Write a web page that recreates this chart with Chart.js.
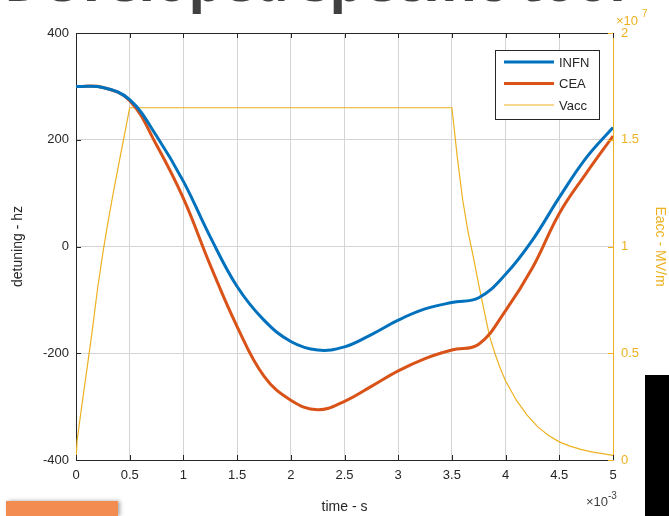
<!DOCTYPE html>
<html>
<head>
<meta charset="utf-8">
<script src="https://cdn.jsdelivr.net/npm/chart.js@4.4.1/dist/chart.umd.min.js"></script>
<style>
  html, body { margin: 0; padding: 0; background: #fff; }
  #wrap { width: 669px; height: 516px; position: relative; }
</style>
</head>
<body>
<div id="wrap"><canvas id="detuneChart" width="669" height="516"></canvas></div>
<script>
// time axis in ms (axis shows x10^-3 s)
const timeMs = [0, 0.25, 0.5, 0.75, 1, 1.25, 1.5, 1.75, 2, 2.25, 2.5,
                2.75, 3, 3.25, 3.5, 3.75, 4, 4.25, 4.5, 4.75, 5];
const infn = [300, 298, 275, 207, 122, 18, -75, -138, -178, -194, -188,
              -165, -138, -117, -105, -96, -52, 12, 92, 166, 223];
const cea  = [300, 298, 273, 190, 90, -35, -150, -243, -288, -306, -290,
              -262, -233, -210, -194, -183, -120, -40, 62, 137, 207];

// Vacc (x10^7 MV/m) has its own time samples
const vaccTime = [0, 0.01, 0.05, 0.1, 0.15, 0.2, 0.25, 0.3, 0.35, 0.4, 0.45, 0.5,
                  3.5, 3.55, 3.6, 3.65, 3.7, 3.75, 3.8, 3.85, 3.9, 3.95, 4,
                  4.1, 4.2, 4.3, 4.4, 4.5, 4.6, 4.7, 4.8, 4.9, 5];
const vacc = [0, 0.09, 0.24, 0.42, 0.6, 0.8, 0.97, 1.12, 1.26, 1.39, 1.52, 1.65,
              1.65, 1.42, 1.22, 1.07, 0.95, 0.82, 0.7, 0.58, 0.5, 0.43, 0.37,
              0.28, 0.21, 0.155, 0.115, 0.085, 0.065, 0.05, 0.038, 0.03, 0.022];

const xTicks = [0, 0.5, 1, 1.5, 2, 2.5, 3, 3.5, 4, 4.5, 5];
const leftTicks = [-400, -200, 0, 200, 400];
const rightTicks = [0, 0.5, 1, 1.5, 2];

const AXIS = '#262626';
const GOLD = '#EDB120';
const FONT = 'Liberation Sans, Arial, sans-serif';

// ---------------- extra drawing ----------------
const decorPlugin = {
  id: 'decor',
  afterDatasetsDraw(chart) {
    const { ctx, chartArea: a, scales } = chart;
    ctx.save();
    // top edge of the box
    ctx.strokeStyle = AXIS;
    ctx.lineWidth = 1;
    ctx.beginPath();
    ctx.moveTo(a.left, a.top + 0.5);
    ctx.lineTo(a.right, a.top + 0.5);
    ctx.stroke();
    // inward ticks
    xTicks.forEach(v => {
      const px = Math.round(scales.x.getPixelForValue(v)) + 0.5;
      ctx.beginPath();
      ctx.moveTo(px, a.bottom); ctx.lineTo(px, a.bottom - 5);
      ctx.moveTo(px, a.top); ctx.lineTo(px, a.top + 5);
      ctx.stroke();
    });
    leftTicks.forEach(v => {
      const py = Math.round(scales.y.getPixelForValue(v)) + 0.5;
      ctx.beginPath();
      ctx.moveTo(a.left, py); ctx.lineTo(a.left + 5, py);
      ctx.stroke();
    });
    ctx.strokeStyle = GOLD;
    rightTicks.forEach(v => {
      const py = Math.round(scales.y1.getPixelForValue(v)) + 0.5;
      ctx.beginPath();
      ctx.moveTo(a.right, py); ctx.lineTo(a.right - 5, py);
      ctx.stroke();
    });

    // legend box
    const bx = 495, by = 50, bw = 104, bh = 69;
    ctx.fillStyle = '#fff';
    ctx.fillRect(bx, by, bw, bh);
    ctx.strokeStyle = AXIS;
    ctx.strokeRect(bx + 0.5, by + 0.5, bw, bh);
    ctx.font = '13px ' + FONT;
    ctx.textBaseline = 'middle';
    chart.data.datasets.forEach((ds, i) => {
      const ry = 62 + i * 21.5;
      ctx.strokeStyle = ds.borderColor;
      ctx.lineWidth = ds.borderWidth;
      ctx.beginPath();
      ctx.moveTo(504, ry); ctx.lineTo(554, ry);
      ctx.stroke();
      ctx.fillStyle = AXIS;
      ctx.fillText(ds.label, 559, ry + 1);
    });

    // exponent labels
    ctx.fillStyle = '#404040';
    ctx.textAlign = 'right';
    ctx.font = '13px ' + FONT;
    ctx.fillText('\u00d710', 608, 502);
    ctx.font = '10px ' + FONT;
    ctx.textAlign = 'left';
    ctx.fillText('-3', 608, 496);
    ctx.fillStyle = GOLD;
    ctx.font = '13px ' + FONT;
    ctx.fillText('\u00d710', 616, 21);
    ctx.font = '10px ' + FONT;
    ctx.fillText('7', 642, 14);
    ctx.restore();
  },
  afterDraw(chart) {
    const { ctx } = chart;
    ctx.save();
    // slide title cut off at the top
    ctx.fillStyle = '#404040';
    ctx.font = 'bold 54px "Open Sans", sans-serif';
    ctx.textBaseline = 'alphabetic';
    ctx.fillText('Developed specific tool', 4, 1);
    // slide shapes around the chart
    ctx.shadowColor = 'rgba(0,0,0,0.35)';
    ctx.shadowBlur = 4;
    ctx.shadowOffsetX = 2;
    ctx.fillStyle = '#F28C50';
    ctx.fillRect(6, 501, 112, 15);
    ctx.shadowColor = 'transparent';
    ctx.fillStyle = '#000';
    ctx.fillRect(645, 375, 24, 141);
    ctx.restore();
  }
};

// ---------------- chart ----------------
const ctx = document.getElementById('detuneChart').getContext('2d');
const detuneChart = new Chart(ctx, {
  type: 'line',
  data: {
    datasets: [
      { label: 'INFN', data: timeMs.map((t, i) => ({ x: t, y: infn[i] })),
        borderColor: '#0072BD', borderWidth: 3, yAxisID: 'y',
        tension: 0.4, pointRadius: 0 },
      { label: 'CEA', data: timeMs.map((t, i) => ({ x: t, y: cea[i] })),
        borderColor: '#D95319', borderWidth: 3, yAxisID: 'y',
        tension: 0.4, pointRadius: 0 },
      { label: 'Vacc', data: vaccTime.map((t, i) => ({ x: t, y: vacc[i] })),
        borderColor: GOLD, borderWidth: 1.2, yAxisID: 'y1',
        tension: 0, pointRadius: 0 }
    ]
  },
  options: {
    responsive: false,
    animation: false,
    layout: { padding: { top: 33, left: 0, right: 0, bottom: 0 } },
    plugins: { legend: { display: false }, tooltip: { enabled: false } },
    scales: {
      x: {
        type: 'linear', min: 0, max: 5,
        afterFit: s => { s.height = 56; },
        afterBuildTicks: s => { s.ticks = xTicks.map(v => ({ value: v })); },
        ticks: { color: AXIS, padding: 8, font: { family: FONT, size: 13 },
                 maxRotation: 0, callback: v => String(v) },
        grid: { color: '#d4d4d4', drawTicks: false },
        border: { color: AXIS },
        title: { display: true, text: 'time - s', color: AXIS,
                 font: { family: FONT, size: 14 }, padding: { top: 8, bottom: 0 } }
      },
      y: {
        position: 'left', min: -400, max: 400,
        afterFit: s => { s.width = 76; },
        afterBuildTicks: s => { s.ticks = leftTicks.map(v => ({ value: v })); },
        ticks: { color: AXIS, padding: 7, font: { family: FONT, size: 13 } },
        grid: { color: '#d4d4d4', drawTicks: false },
        border: { color: AXIS },
        title: { display: true, text: 'detuning - hz', color: AXIS,
                 font: { family: FONT, size: 14 }, padding: { top: 10, bottom: 0 } }
      },
      y1: {
        position: 'right', min: 0, max: 2,
        afterFit: s => { s.width = 56; },
        afterBuildTicks: s => { s.ticks = rightTicks.map(v => ({ value: v })); },
        ticks: { color: GOLD, padding: 8, font: { family: FONT, size: 13 },
                 callback: v => String(v) },
        grid: { display: false, drawTicks: false },
        border: { color: GOLD },
        title: { display: true, text: 'Eacc - MV/m', color: GOLD,
                 font: { family: FONT, size: 14 }, padding: { top: 1, bottom: 0 } }
      }
    }
  },
  plugins: [decorPlugin]
});
</script>
</body>
</html>
